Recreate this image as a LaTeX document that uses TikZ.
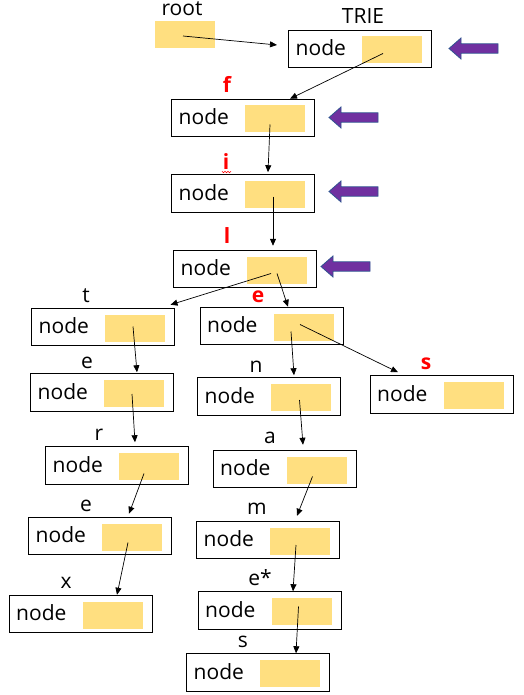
\documentclass[tikz,border=0pt]{standalone}
\usepackage{fontspec}
\setmainfont{Open Sans}
\usetikzlibrary{arrows.meta,calc}
\definecolor{yel}{HTML}{FFDF80}
\definecolor{purp}{HTML}{7030A0}
\definecolor{purpedge}{HTML}{2F528F}
\newcommand\trienode[3]{%
  \node[tbox] (#1) at (#2,#3) {};
  \node[ybox] (#1y) at ($(#1.center)+(32,1)$) {};
  \node[ntext] (#1t) at ($(#1.west)+(7.5,6.5)$) {node};
}
\newcommand\purparrow[3]{%
  \fill[purp,draw=purpedge,line width=0.8pt] (#2,#3) -- ++(12,-10.5) -- ++(0,5.8) -- ++(37,0) -- ++(0,9.4) -- ++(-37,0) -- ++(0,5.8) -- cycle;
}
\begin{document}
\begin{tikzpicture}[x=1pt,y=-1pt,
  tbox/.style={draw,line width=1pt,minimum width=143pt,minimum height=37.5pt,inner sep=0pt},
  ybox/.style={fill=yel,minimum width=60pt,minimum height=27pt,inner sep=0pt},
  ntext/.style={anchor=base west,inner sep=0pt,font=\fontsize{21}{25}\selectfont},
  lab/.style={anchor=base,inner sep=0pt,font=\fontsize{21}{25}\selectfont},
  rlab/.style={lab,text=red,font=\fontsize{21}{25}\selectfont\bfseries},
  arr/.style={-{Triangle[length=7pt,width=6pt]},line width=0.7pt}]
\useasboundingbox (0,0) rectangle (523,695);
% root
\node[ybox] (root) at (185,34.5) {};
\node[lab] (lroot) at (182,16) {root};
\node[lab] (ltrie) at (363,24) {TRIE};
% nodes
\trienode{trie}{360}{49}
\trienode{nf}{243}{118}
\trienode{ni}{243}{193.5}
\trienode{nl}{245}{269}
\trienode{nt}{103}{327}
\trienode{ne}{271.5}{326}
\trienode{ns}{441.5}{394.5}
\trienode{nel}{102}{392.5}
\trienode{nn}{269}{396.5}
\trienode{nr}{117}{465.5}
\trienode{na}{284.5}{469}
\trienode{nee}{100}{536}
\trienode{nm}{268}{540}
\trienode{nx}{80.5}{614}
\trienode{nes}{269.5}{610.5}
\trienode{nss}{258}{672.5}
% labels
\node[rlab] (lf) at (227,93) {f};
\node[rlab] (li) at (226,169) {i};
\draw[red,line width=0.5pt] (222,171.2) -- (223.5,172.7) -- (225,171.2) -- (226.5,172.7) -- (228,171.2) -- (229.5,172.7) -- (231,171.2);
\node[rlab] (ll) at (227,243) {l};
\node[lab] (lt) at (86,302) {t};
\node[rlab] (le) at (258,302) {e};
\node[lab] (lel) at (87,368) {e};
\node[lab] (ln) at (256,372) {n};
\node[rlab] (ls) at (426,369) {s};
\node[lab] (lr) at (99,440) {r};
\node[lab] (la) at (270,443) {a};
\node[lab] (lee) at (86,511) {e};
\node[lab] (lm) at (257,514) {m};
\node[lab] (lx) at (66,588) {x};
\node[lab] (les) at (260,585) {e*};
\node[lab] (lss) at (243,647) {s};
% purple arrows
\purparrow{p1}{449}{48.5}
\purparrow{p2}{329}{117.5}
\purparrow{p3}{329}{191.5}
\purparrow{p4}{321}{266.5}
% connectors
\draw[arr] ([shift={(-2,1.5)}]root.center) -- ([shift={(-11,-4)}]trie.west);
\draw[arr] ([shift={(-9,3.5)}]triey.center) -- ([shift={(47,0)}]nf.north);
\draw[arr] ([shift={(-5,5.5)}]nfy.center) -- ([shift={(25,-2)}]ni.north);
\draw[arr] ([shift={(-2,2)}]niy.center) -- ([shift={(28,-4)}]nl.north);
\draw[arr] ([shift={(-6,3.5)}]nly.center) -- ([shift={(-4.5,-3)}]nt.north east);
\draw[arr] ([shift={(0,3.5)}]nly.center) -- ([shift={(16.5,0)}]ne.north);
\draw[arr] ([shift={(-12.5,4.5)}]ney.center) -- ([shift={(25,-2)}]nn.north);
\draw[arr] ([shift={(-3.5,-2.5)}]ney.center) -- ([shift={(-43.5,-3)}]ns.north);
\draw[arr] ([shift={(-2,-1.5)}]nty.center) -- ([shift={(35,-1)}]nel.north);
\draw[arr] ([shift={(-2,0.5)}]nely.center) -- ([shift={(18,-4)}]nr.north);
\draw[arr] ([shift={(-5,7)}]nry.center) -- ([shift={(29,-3)}]nee.north);
\draw[arr] ([shift={(-4,5.5)}]neey.center) -- ([shift={(36.5,0)}]nx.north);
\draw[arr] ([shift={(-1.5,2.5)}]nny.center) -- ([shift={(18.5,-5)}]na.north);
\draw[arr] ([shift={(-4,6.5)}]nay.center) -- ([shift={(29,-5)}]nm.north);
\draw[arr] ([shift={(-4,4)}]nmy.center) -- ([shift={(23.5,0)}]nes.north);
\draw[arr] ([shift={(-3,-5)}]nesy.center) -- ([shift={(38,0)}]nss.north);
\end{tikzpicture}
\end{document}
